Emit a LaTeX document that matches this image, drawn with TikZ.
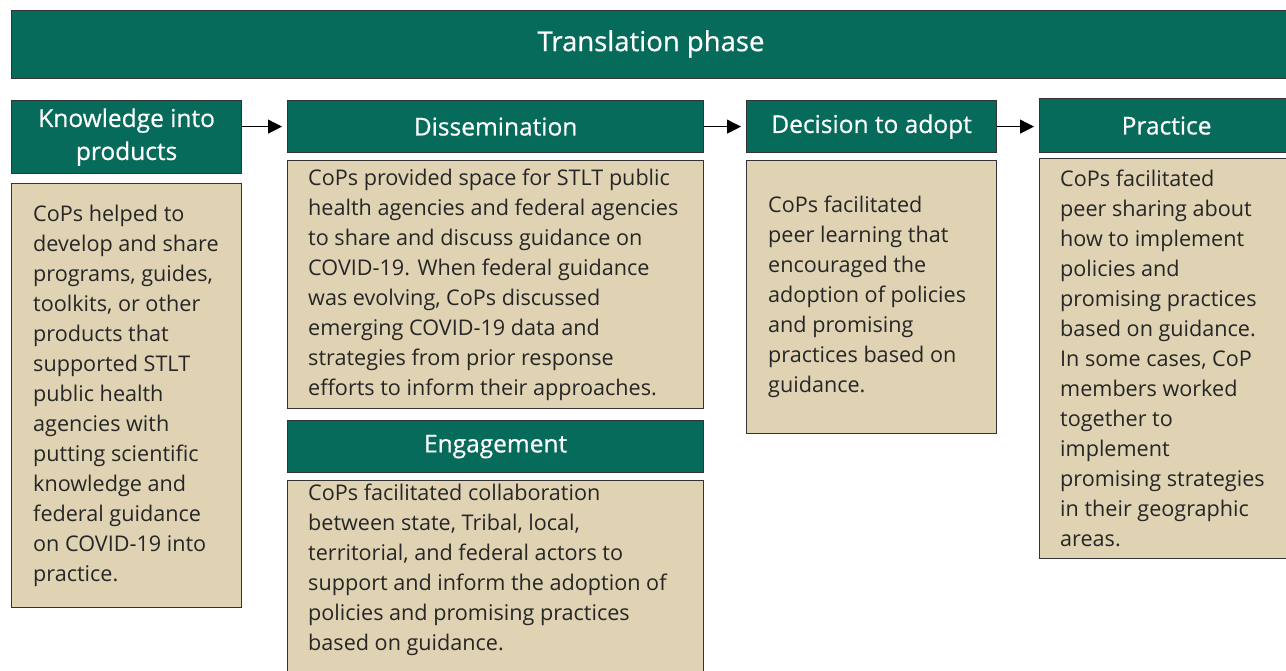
\documentclass[tikz,border=0pt]{standalone}
\usepackage{fontspec}
\setmainfont{Open Sans}
\newfontfamily\headfont[FakeBold=0.6]{Open Sans}
\usetikzlibrary{arrows,arrows.meta}
\definecolor{phasegreen}{HTML}{076B5C}
\definecolor{bodytan}{HTML}{DFD3B4}

\begin{document}
\begin{tikzpicture}[x=1pt,y=-1pt]
        \tikzset{Box/.style={draw=black!80,line width=1.2pt,anchor=north west,inner sep=0pt},
                 Head/.style={Box,fill=phasegreen,text=white,align=center,
                              font=\headfont\fontsize{24.5}{33}\selectfont},
                 Body/.style={Box,fill=bodytan},
                 Txt/.style={anchor=west,inner sep=0pt,align=left,text=black!85,
                             font=\fontsize{21.6}{30}\selectfont},
                 Flow/.style={-{Triangle[length=14pt,width=14pt]},line width=1pt,shorten >=5pt}}
        \useasboundingbox (0,0) rectangle (1286,671);

        \node[Head,minimum width=1280pt,minimum height=68pt] (T) at (11,10) {};
        \node[text=white,font=\headfont\fontsize{27.5}{30}\selectfont] (Tt) at (651,44) {Translation phase};

        % knowledge into products
        \node[Head,minimum width=230pt,minimum height=73pt] (K1) at (11,100)
            {Knowledge into\\products};
        \node[Body,minimum width=230pt,minimum height=424pt] (K2) at (11,183) {};
        \node[Txt] (K2t) at ([xshift=22pt]K2.west)
            {CoPs helped to\\develop and share\\programs, guides,\\toolkits, or other\\
             products that\\supported STLT\\public health\\agencies with\\
             putting scientific\\knowledge and\\federal guidance\\on COVID-19 into\\practice.};

        % dissemination and engagement
        \node[Head,minimum width=416pt,minimum height=52pt] (D1) at (287,100) {Dissemination};
        \node[Body,minimum width=416pt,minimum height=248pt] (D2) at (287,160) {};
        \node[Txt] (D2t) at ([xshift=21pt]D2.west)
            {CoPs provided space for STLT public\\health agencies and federal agencies\\
             to share and discuss guidance on\\COVID-19. When federal guidance\\
             was evolving, CoPs discussed\\emerging COVID-19 data and\\
             strategies from prior response\\efforts to inform their approaches.};

        \node[Head,minimum width=416pt,minimum height=52pt] (E1) at (287,420) {Engagement};
        \node[Body,minimum width=416pt,minimum height=205pt] (E2) at (287,480) {};
        \node[Txt,anchor=north west] (E2t) at (308,484)
            {CoPs facilitated collaboration\\between state, Tribal, local,\\
             territorial, and federal actors to\\support and inform the adoption of\\
             policies and promising practices\\based on guidance.};

        % decision to adopt
        \node[Head,minimum width=250pt,minimum height=52pt] (C1) at (746,100) {Decision to adopt};
        \node[Body,minimum width=250pt,minimum height=273pt] (C2) at (746,160) {};
        \node[Txt] (C2t) at ([xshift=22pt]C2.west)
            {CoPs facilitated\\peer learning that\\encouraged the\\adoption of policies\\
             and promising\\practices based on\\guidance.};

        % practice
        \node[Head,minimum width=254pt,minimum height=54pt] (P1) at (1039,98) {Practice};
        \node[Body,minimum width=254pt,minimum height=400pt] (P2) at (1039,158) {};
        \node[Txt] (P2t) at ([xshift=21pt]P2.west)
            {CoPs facilitated\\peer sharing about\\how to implement\\policies and\\
             promising practices\\based on guidance.\\In some cases, CoP\\members worked\\
             together to\\implement\\promising strategies\\in their geographic\\areas.};

        \draw[Flow] (K1.east |- D1.west) -- (D1.west);
        \draw[Flow] (D1.east) -- (C1.west);
        \draw[Flow] (C1.east) -- (C1.east -| P1.west);
    \end{tikzpicture}
\end{document}
